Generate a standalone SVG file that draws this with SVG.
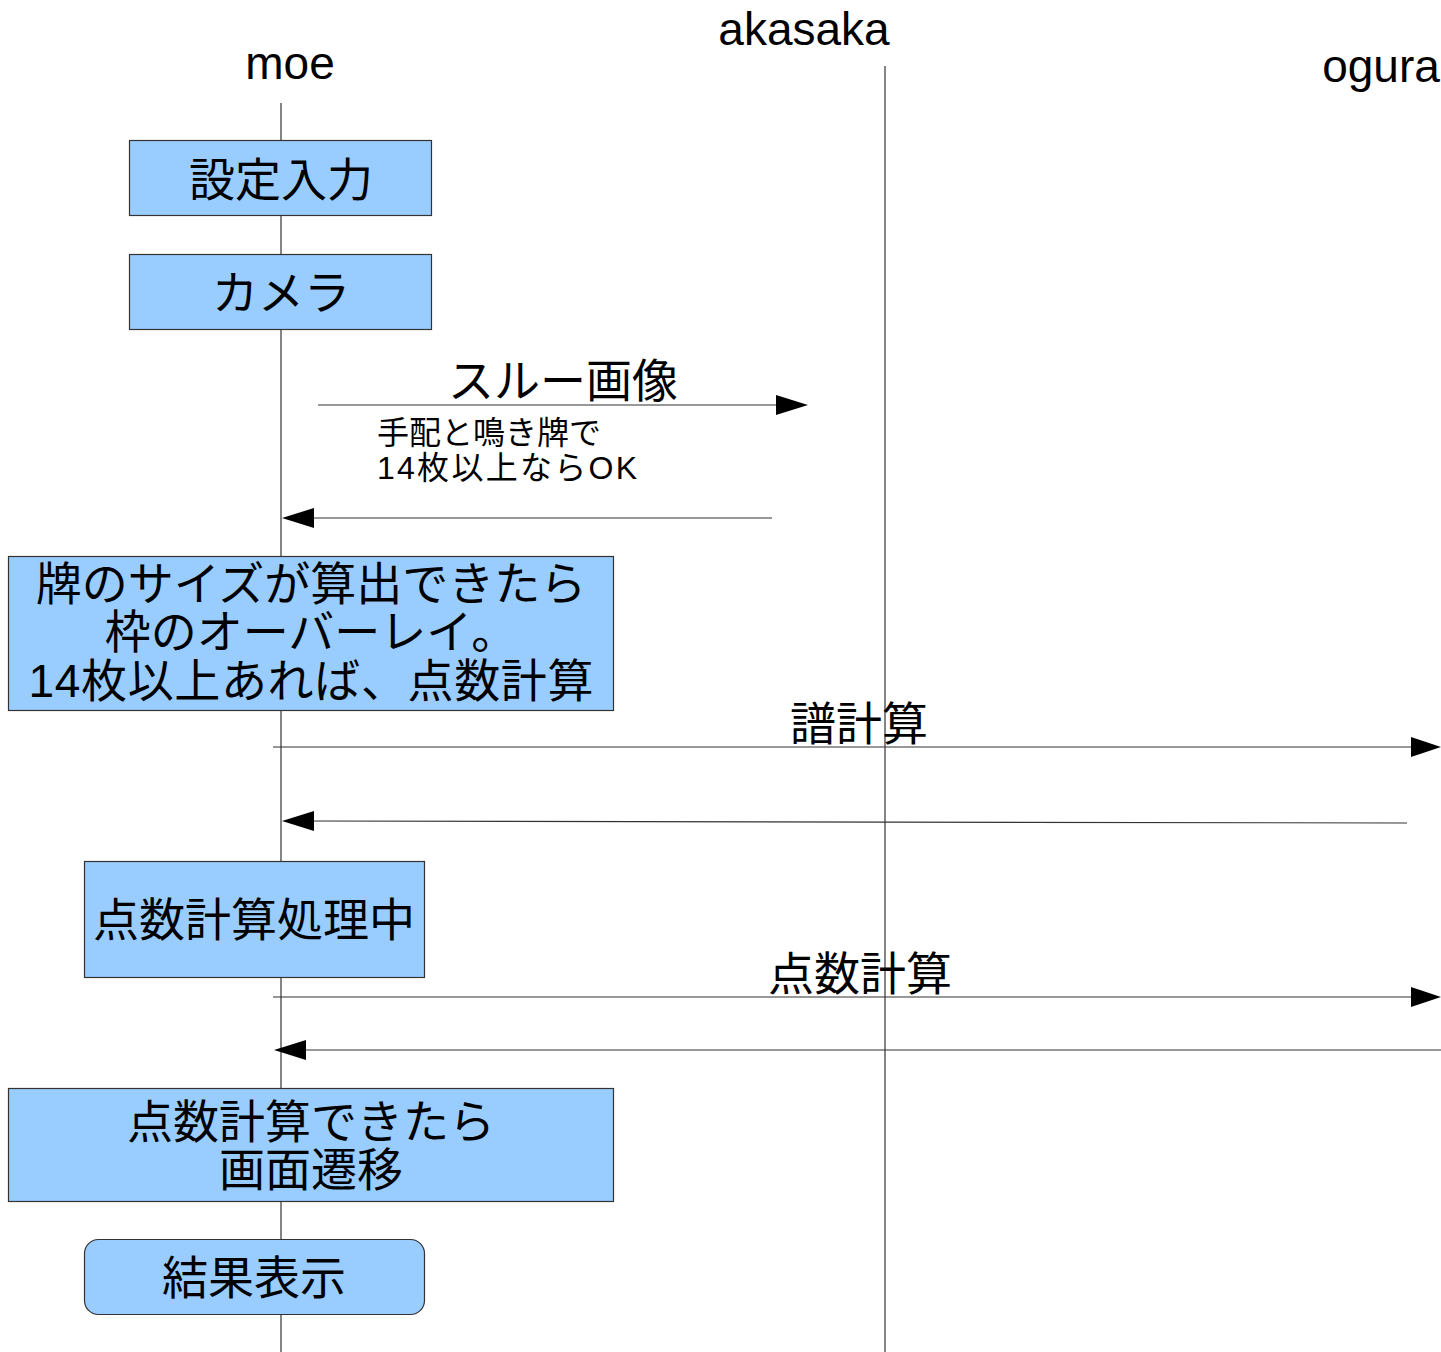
<svg xmlns="http://www.w3.org/2000/svg" width="1441" height="1352" viewBox="0 0 1441 1352">
<style>
text{font-family:"Liberation Sans","Noto Sans CJK JP",sans-serif;fill:#000}
.t{font-size:46px;text-anchor:middle}
.box{fill:#99ccff;stroke:#333;stroke-width:1.2}
.ll{stroke:#333;stroke-width:1.2;fill:none}
.msg{stroke:#333;stroke-width:1.2;fill:none}
.small{font-size:32px}
.head{fill:#000;stroke:none}
</style>
<rect width="1441" height="1352" fill="#fff"/>
<g id="lifelines">
<text class="t" x="290" y="79" font-size="44">moe</text>
<text class="t" x="804" y="45" font-size="44">akasaka</text>
<text class="t" x="1381" y="82" font-size="44">ogura</text>
<line class="ll" x1="281" y1="103" x2="281" y2="1352"/>
<line class="ll" x1="885" y1="66" x2="885" y2="1352"/>
</g>
<g id="n1"><rect class="box" x="129.5" y="140.5" width="302" height="75"/><text class="t" x="281" y="196">設定入力</text></g>
<g id="n2"><rect class="box" x="129.5" y="254.5" width="302" height="75"/><text class="t" x="281" y="309">カメラ</text></g>
<g id="n3"><rect class="box" x="8.5" y="556.5" width="605" height="154"/>
<text class="t" x="311" y="600">牌のサイズが算出できたら</text>
<text class="t" x="311" y="648">枠のオーバーレイ。</text>
<text class="t" x="311" y="697" textLength="565" lengthAdjust="spacing">14枚以上あれば、点数計算</text></g>
<g id="n4"><rect class="box" x="84.5" y="861.5" width="340" height="116"/><text class="t" x="254" y="936">点数計算処理中</text></g>
<g id="n5"><rect class="box" x="8.5" y="1088.5" width="605" height="113"/>
<text class="t" x="311" y="1138">点数計算できたら</text>
<text class="t" x="311" y="1186">画面遷移</text></g>
<g id="n6"><rect class="box" x="84.5" y="1239.5" width="340" height="75" rx="14"/><text class="t" x="254" y="1294">結果表示</text></g>
<g id="connectors">
<line class="msg" x1="318" y1="405" x2="780" y2="405"/>
<polygon class="head" points="808,405 776,395 776,415"/>
<text class="t" x="563" y="397">スルー画像</text>
<text class="small" x="377" y="444">手配と鳴き牌で</text>
<text class="small" x="377" y="479" textLength="260" lengthAdjust="spacing">14枚以上ならOK</text>
<line class="msg" x1="772" y1="518" x2="310" y2="518"/>
<polygon class="head" points="282,518 314,508 314,528"/>
<line class="msg" x1="273" y1="747" x2="1413" y2="747"/>
<polygon class="head" points="1441,747 1411,737 1411,757"/>
<text class="t" x="859" y="740">譜計算</text>
<line class="msg" x1="1407" y1="823" x2="310" y2="821"/>
<polygon class="head" points="282,821 314,811 314,831"/>
<line class="msg" x1="273" y1="997" x2="1413" y2="997"/>
<polygon class="head" points="1441,997 1411,987 1411,1007"/>
<text class="t" x="860" y="990">点数計算</text>
<line class="msg" x1="1441" y1="1050" x2="300" y2="1050"/>
<polygon class="head" points="274,1050 306,1040 306,1060"/>
</g>
</svg>
